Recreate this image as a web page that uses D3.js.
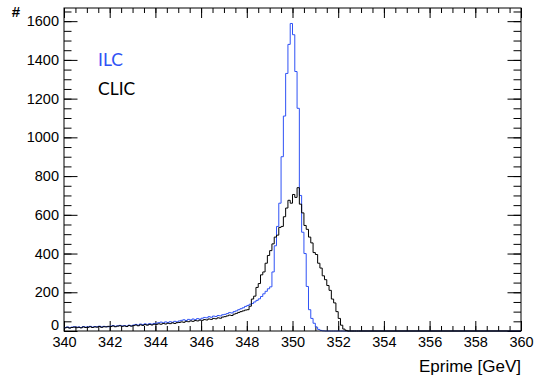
<!DOCTYPE html>
<html>
<head>
<meta charset="utf-8">
<script src="https://cdn.jsdelivr.net/npm/d3@7"></script>
<style>
  html, body { margin: 0; padding: 0; background: #fff; }
  svg { display: block; }
</style>
</head>
<body>
<div id="chart"></div>
<script>
// histogram binning: 0.1 GeV bins starting at 340 GeV
const binStart = 340;
const binWidth = 0.1;

// ILC, bins 340.0 .. 352.9
const ilcCounts = [
  18, 21, 17, 20, 22, 19, 21, 18, 23, 20,
  21, 24, 20, 23, 22, 25, 21, 24, 23, 22,
  25, 28, 24, 27, 29, 26, 28, 25, 30, 27,
  31, 34, 30, 36, 33, 37, 34, 38, 35, 39,
  40, 43, 46, 42, 47, 44, 48, 45, 50, 47,
  52, 55, 58, 54, 60, 57, 62, 59, 64, 61,
  66, 70, 68, 74, 71, 77, 75, 80, 78, 84,
  86, 90, 95, 93, 100, 104, 110, 115, 120, 127,
  132, 138, 142, 150, 158, 166, 178, 192, 205, 218,
  228, 305, 440, 540, 660, 900, 1110, 1330, 1480, 1588,
  1530, 1340, 1150, 700, 510, 400, 230, 110, 65, 40,
  20, 8, 3, 1, 0, 0, 0, 0, 0, 0,
  0, 0, 0, 0, 0, 0, 0, 0, 0, 0
];

// CLIC, bins 340.0 .. 352.9
const clicCounts = [
  16, 19, 15, 18, 20, 17, 19, 16, 21, 18,
  19, 22, 18, 21, 20, 23, 19, 22, 21, 24,
  23, 26, 22, 25, 27, 24, 26, 23, 28, 25,
  28, 31, 27, 32, 29, 33, 30, 34, 31, 35,
  34, 37, 35, 39, 36, 40, 38, 42, 39, 43,
  44, 47, 45, 50, 48, 52, 50, 54, 52, 56,
  55, 59, 57, 62, 60, 65, 63, 68, 66, 72,
  74, 78, 82, 80, 87, 91, 96, 100, 104, 108,
  110, 128, 165, 180, 225, 245, 290, 305, 350, 390,
  415, 450, 485, 495, 535, 540, 590, 635, 675, 660,
  705, 690, 740, 655, 610, 545, 525, 485, 455, 405,
  395, 350, 325, 285, 265, 235, 210, 165, 145, 100,
  65, 30, 10, 3, 0, 0, 0, 0, 0, 0
];

const xTicks = [340, 342, 344, 346, 348, 350, 352, 354, 356, 358, 360];
const yTicks = [0, 200, 400, 600, 800, 1000, 1200, 1400, 1600];
const seriesNames = ["ILC", "CLIC"];
const seriesColors = ["#2f52f5", "#000000"];

const W = 535, H = 375;
const margin = { top: 8, right: 14, bottom: 44, left: 64 };
const width = W - margin.left - margin.right;
const height = H - margin.top - margin.bottom;
const font = "'Liberation Sans', Arial, Helvetica, sans-serif";

const x = d3.scaleLinear().domain([340, 360]).range([0, width]);
const y = d3.scaleLinear().domain([0, 1668]).range([height, 0]);

const svg = d3.select("#chart").append("svg")
  .attr("width", W)
  .attr("height", H)
  .style("font-family", font)
  .append("g")
  .attr("transform", `translate(${margin.left},${margin.top})`);

const xMinor = d3.range(340, 360.001, 0.5);
const yMinor = d3.range(0, 1668, 50);

function styleAxis(g) {
  g.select(".domain").remove();
  g.selectAll("line").attr("stroke", "#000").attr("stroke-width", 1);
  g.selectAll("text").attr("fill", "#000");
}

// bottom
svg.append("g").attr("transform", `translate(0,${height})`)
  .call(d3.axisBottom(x).tickValues(xMinor).tickSize(-5).tickFormat(""))
  .call(styleAxis);
svg.append("g").attr("transform", `translate(0,${height})`)
  .style("font-size", "14.5px")
  .call(d3.axisBottom(x).tickValues(xTicks).tickSize(-10).tickPadding(5.5).tickFormat(d3.format("d")))
  .call(styleAxis)
  .call(g => g.selectAll("text").attr("font-family", font));
// top
svg.append("g")
  .call(d3.axisTop(x).tickValues(xMinor).tickSize(-5).tickFormat(""))
  .call(styleAxis);
svg.append("g")
  .call(d3.axisTop(x).tickValues(xTicks).tickSize(-10).tickFormat(""))
  .call(styleAxis);
// left
svg.append("g")
  .call(d3.axisLeft(y).tickValues(yMinor).tickSize(-7.5).tickFormat(""))
  .call(styleAxis);
svg.append("g")
  .style("font-size", "14.5px")
  .call(d3.axisLeft(y).tickValues(yTicks).tickSize(-13.5).tickPadding(5).tickFormat(d3.format("d")))
  .call(styleAxis)
  .call(g => g.selectAll("text").attr("font-family", font))
  .call(g => g.selectAll(".tick text").filter(d => d === 0).attr("dy", "-0.08em"));
// right
svg.append("g").attr("transform", `translate(${width},0)`)
  .call(d3.axisRight(y).tickValues(yMinor).tickSize(-7.5).tickFormat(""))
  .call(styleAxis);
svg.append("g").attr("transform", `translate(${width},0)`)
  .call(d3.axisRight(y).tickValues(yTicks).tickSize(-13.5).tickFormat(""))
  .call(styleAxis);

// histograms as step outlines
function histPoints(counts) {
  const pts = counts.map((c, i) => [binStart + i * binWidth, c]);
  const lastEdge = binStart + counts.length * binWidth;
  pts.push([lastEdge, 0], [360, 0]);
  return pts;
}

const step = d3.line()
  .curve(d3.curveStepAfter)
  .x(d => x(d[0]))
  .y(d => y(d[1]));

[ilcCounts, clicCounts].forEach((counts, i) => {
  svg.append("path")
    .datum(histPoints(counts))
    .attr("fill", "none")
    .attr("stroke", seriesColors[i])
    .attr("stroke-width", 1)
    .attr("d", step);
});

// frame
svg.append("rect")
  .attr("width", width)
  .attr("height", height)
  .attr("fill", "none")
  .attr("stroke", "#000")
  .attr("stroke-width", 1);

// axis titles
svg.append("text")
  .attr("x", width)
  .attr("y", height + 41)
  .attr("text-anchor", "end")
  .style("font-size", "17px")
  .text("Eprime [GeV]");

svg.append("text")
  .attr("x", 20 - margin.left)
  .attr("y", 8.5)
  .attr("text-anchor", "end")
  .style("font-size", "15px")
  .style("font-weight", "bold")
  .text("#");

// legend text
svg.selectAll(".legend")
  .data(seriesNames)
  .enter()
  .append("text")
  .attr("class", "legend")
  .attr("x", 98 - margin.left)
  .attr("y", (d, i) => 58 + i * 28.5)
  .attr("fill", (d, i) => seriesColors[i])
  .style("font-family", "Lato, 'Open Sans', sans-serif")
  .style("font-size", "17.5px")
  .text(d => d);
</script>
</body>
</html>
